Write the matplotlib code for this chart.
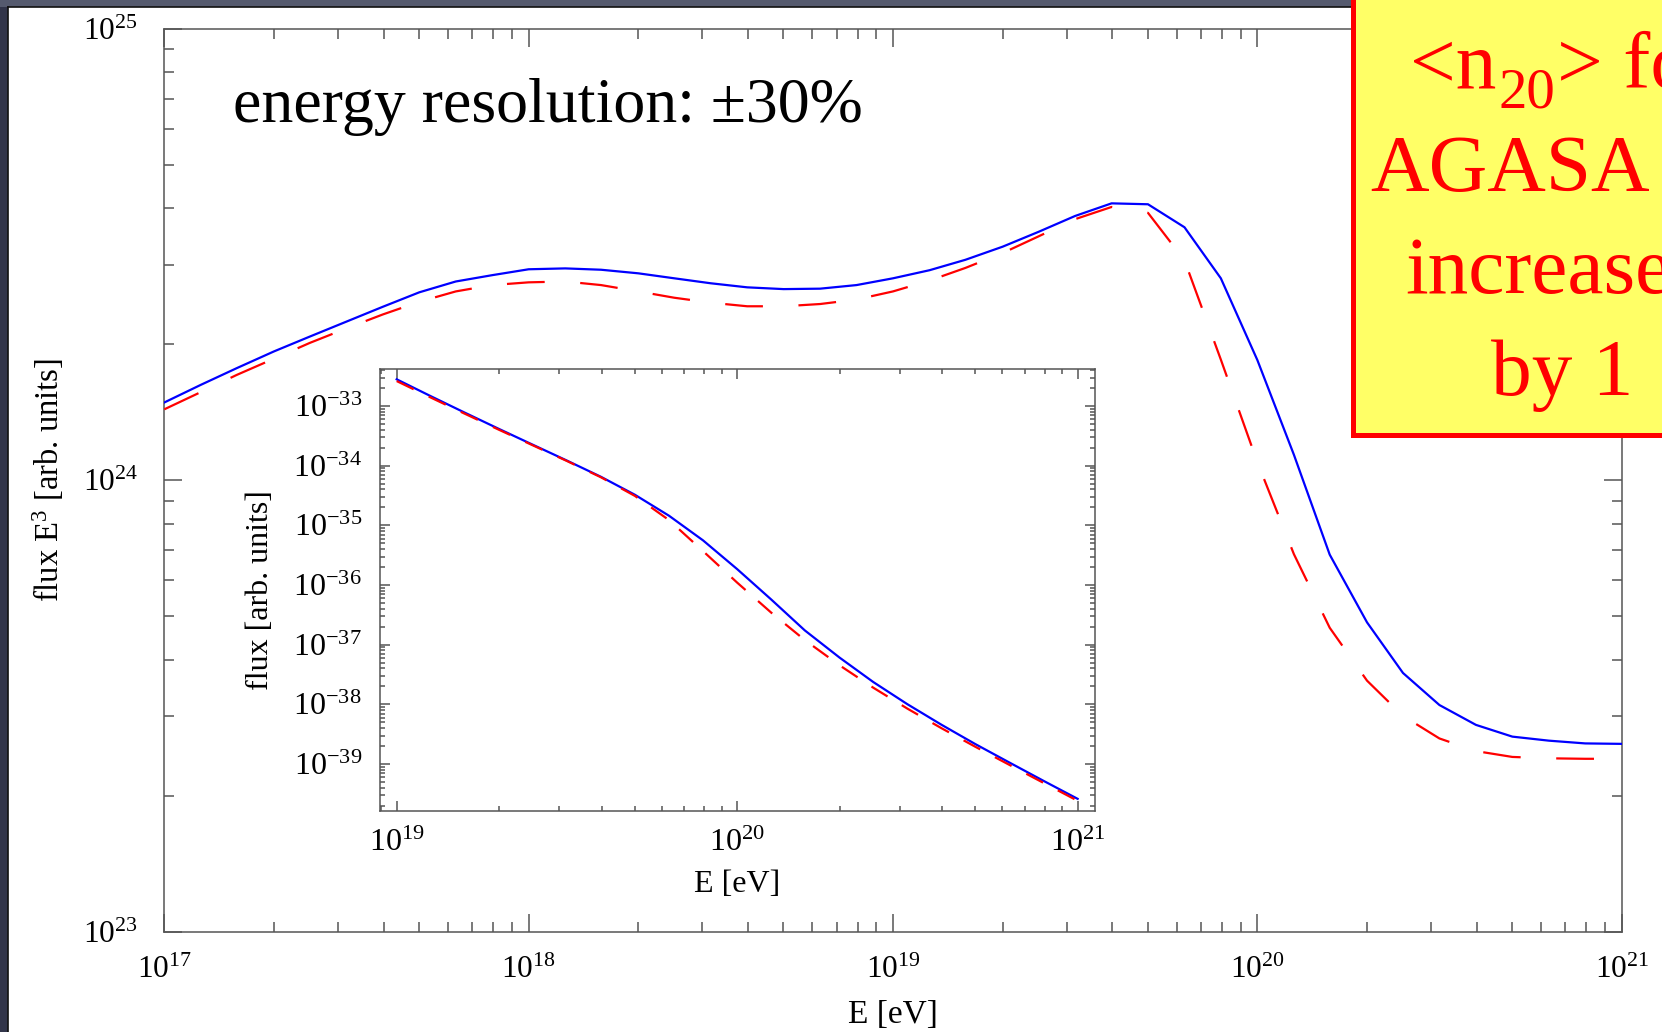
import numpy as np
import matplotlib
matplotlib.use("Agg")
import matplotlib.pyplot as plt
from matplotlib.ticker import LogLocator, FuncFormatter, NullFormatter
from matplotlib.patches import Rectangle
from matplotlib.lines import Line2D

# ---------------- data ----------------
energy_eV = [
    1.00e17, 1.26e17, 1.58e17, 2.00e17, 2.51e17, 3.16e17, 3.98e17, 5.01e17, 6.31e17, 7.94e17,
    1.00e18, 1.26e18, 1.58e18, 2.00e18, 2.51e18, 3.16e18, 3.98e18, 5.01e18, 6.31e18, 7.94e18,
    1.00e19, 1.26e19, 1.58e19, 2.00e19, 2.51e19, 3.16e19, 3.98e19, 5.01e19, 6.31e19, 7.94e19,
    1.00e20, 1.26e20, 1.58e20, 2.00e20, 2.51e20, 3.16e20, 3.98e20, 5.01e20, 6.31e20, 7.94e20,
    1.00e21,
]

# flux * E^3, solid blue curve
flux_e3_solid = [
    1.486e24, 1.626e24, 1.770e24, 1.928e24, 2.080e24, 2.244e24, 2.421e24, 2.606e24, 2.754e24, 2.844e24,
    2.931e24, 2.944e24, 2.924e24, 2.871e24, 2.799e24, 2.729e24, 2.673e24, 2.649e24, 2.655e24, 2.704e24,
    2.799e24, 2.917e24, 3.076e24, 3.289e24, 3.548e24, 3.846e24, 4.102e24, 4.083e24, 3.631e24, 2.799e24,
    1.845e24, 1.138e24, 6.839e23, 4.842e23, 3.741e23, 3.177e23, 2.871e23, 2.704e23, 2.649e23, 2.612e23,
    2.606e23,
]

# flux * E^3, dashed red curve (energy resolution +-30%)
flux_e3_dashed = [
    1.435e24, 1.567e24, 1.710e24, 1.858e24, 2.014e24, 2.168e24, 2.328e24, 2.483e24, 2.618e24, 2.704e24,
    2.742e24, 2.754e24, 2.704e24, 2.618e24, 2.535e24, 2.472e24, 2.427e24, 2.427e24, 2.455e24, 2.512e24,
    2.618e24, 2.767e24, 2.951e24, 3.184e24, 3.467e24, 3.784e24, 4.027e24, 3.908e24, 3.069e24, 1.849e24,
    1.096e24, 6.855e23, 4.710e23, 3.597e23, 3.006e23, 2.679e23, 2.512e23, 2.438e23, 2.421e23, 2.415e23,
    2.415e23,
]

# inset: plain flux (flux*E^3 divided by E^3) for E >= 1e19
inset_E = [e for e in energy_eV if e >= 1e19]
inset_flux_solid = [f / e**3 for e, f in zip(energy_eV, flux_e3_solid) if e >= 1e19]
inset_flux_dashed = [f / e**3 for e, f in zip(energy_eV, flux_e3_dashed) if e >= 1e19]

main_xticks = [1e17, 1e18, 1e19, 1e20, 1e21]
main_yticks = [1e23, 1e24, 1e25]

# ---------------- style ----------------
plt.rcParams["font.family"] = ["Liberation Serif", "DejaVu Serif"]
plt.rcParams["mathtext.fontset"] = "custom"
plt.rcParams["mathtext.rm"] = "Liberation Serif"
plt.rcParams["mathtext.it"] = "Liberation Serif:italic"
plt.rcParams["mathtext.bf"] = "Liberation Serif:bold"
plt.rcParams["mathtext.default"] = "regular"

W, H = 1662, 1032
fig = plt.figure(figsize=(W / 100, H / 100), dpi=100)
fig.patch.set_facecolor("white")


def fx(px):
    return px / W


def fy(py):
    return 1 - py / H


# dark slide frame (left and top strips)
fig.add_artist(Rectangle((0, 0), fx(8), 1, transform=fig.transFigure,
                         facecolor="#32354a", edgecolor="none", zorder=0))
fig.add_artist(Rectangle((0, fy(7)), 1, 7 / H, transform=fig.transFigure,
                         facecolor="#555a6e", edgecolor="none", zorder=0))
fig.add_artist(Line2D([fx(8), fx(8)], [0, fy(7)], transform=fig.transFigure,
                      color="#111111", lw=1.2, zorder=1))
fig.add_artist(Line2D([fx(8), 1], [fy(7), fy(7)], transform=fig.transFigure,
                      color="#111111", lw=1.2, zorder=1))

SPINE = "#555555"


def pow10(v, pos):
    e = int(round(np.log10(v)))
    return r"$10^{%d}$" % e


def style_axes(a, major_len, minor_len, xpad, ypad, lsize):
    a.set_xscale("log")
    a.set_yscale("log")
    for s in a.spines.values():
        s.set_color(SPINE)
        s.set_linewidth(1.1)
    for axis in (a.xaxis, a.yaxis):
        axis.set_major_locator(LogLocator(base=10, numticks=100))
        axis.set_minor_locator(LogLocator(base=10, subs=np.arange(2, 10), numticks=100))
        axis.set_major_formatter(FuncFormatter(pow10))
        axis.set_minor_formatter(NullFormatter())
    a.tick_params(which="both", direction="in", top=True, right=True,
                  color=SPINE, width=1.1, labelcolor="black", labelsize=lsize)
    a.tick_params(which="major", length=major_len)
    a.tick_params(which="minor", length=minor_len)
    a.tick_params(axis="x", pad=xpad)
    a.tick_params(axis="y", pad=ypad)


# ---------------- main axes ----------------
L, R, T, B = 164.3, 1621.7, 28.6, 931.7
ax = fig.add_axes([fx(L), fy(B), (R - L) / W, (B - T) / H])
style_axes(ax, 13, 7, 17, 19, 22.5)
ax.plot(energy_eV, flux_e3_solid, color="#0000ff", lw=1.6, zorder=3)
ax.plot(energy_eV, flux_e3_dashed, color="#ff0000", lw=1.6, linestyle=(0, (17, 16)), zorder=4)
ax.set_xlim(1e17, 1e21)
ax.set_ylim(1e23, 1e25)
ax.set_xticks(main_xticks)
ax.set_yticks(main_yticks)
ax.xaxis.set_minor_locator(LogLocator(base=10, subs=np.arange(2, 10), numticks=100))
ax.yaxis.set_minor_locator(LogLocator(base=10, subs=np.arange(2, 10), numticks=100))
ax.xaxis.set_minor_formatter(NullFormatter())
ax.yaxis.set_minor_formatter(NullFormatter())

ax.set_xlabel("E [eV]", fontsize=24)
ax.xaxis.set_label_coords(0.5, (B - 1015) / (B - T))
ax.xaxis.label.set_va("center")
ax.set_ylabel("flux $E^3$ [arb. units]", fontsize=23.5)
ax.yaxis.set_label_coords((48 - L) / (R - L), 0.5)
ax.yaxis.label.set_va("center")

# ---------------- inset ----------------
iL, iR, iT, iB = 380, 1095, 369, 811
ax2 = fig.add_axes([fx(iL), fy(iB), (iR - iL) / W, (iB - iT) / H], zorder=5)
style_axes(ax2, 7, 3.6, 13, 13, 23)
ax2.set_facecolor("white")
ax2.plot(inset_E, inset_flux_solid, color="#0000ff", lw=1.6, zorder=3)
ax2.plot(inset_E, inset_flux_dashed, color="#ff0000", lw=1.6, linestyle=(0, (8.5, 7.5)), zorder=4)
ax2.set_xlim(10 ** 18.951, 10 ** 21.051)
ax2.set_ylim(10 ** -39.788, 10 ** -32.38)
ax2.set_xlabel("E [eV]", fontsize=23)
ax2.xaxis.set_label_coords(0.5, (iB - 885) / (iB - iT))
ax2.xaxis.label.set_va("center")
ax2.set_ylabel("flux [arb. units]", fontsize=23)
ax2.yaxis.set_label_coords((260 - iL) / (iR - iL), 0.5)
ax2.yaxis.label.set_va("center")

# ---------------- annotations ----------------
fig.text(fx(233), fy(122), "energy resolution: \u00b130%", fontsize=46,
         ha="left", va="baseline", color="black", zorder=6)

fig.add_artist(Rectangle((fx(1352.5), fy(434.8)), 0.4, 0.7, transform=fig.transFigure,
                         facecolor="#ffff66", edgecolor="#ff0000", lw=3.6, zorder=10))

BOX_FS = 58.5
renderer = fig.canvas.get_renderer()
# first line built from pieces so that the subscript sits as low as in the slide
t_a = fig.text(fx(1410), fy(88), "<n", fontsize=BOX_FS, color="#ff0000",
               ha="left", va="baseline", zorder=11)
xa = t_a.get_window_extent(renderer).x1
t_b = fig.text((xa + 2) / W, fy(108), "20", fontsize=BOX_FS * 0.7, color="#ff0000",
               ha="left", va="baseline", zorder=11)
xb = t_b.get_window_extent(renderer).x1
fig.text((xb + 2) / W, fy(88), "> for", fontsize=BOX_FS, color="#ff0000",
         ha="left", va="baseline", zorder=11)

box_lines = [("AGASA", 1370, 191),
             ("increased", 1405, 293),
             ("by 1", 1491, 395)]
for txt, x0, yb in box_lines:
    fig.text(fx(x0), fy(yb), txt, fontsize=BOX_FS, color="#ff0000",
             ha="left", va="baseline", zorder=11)

fig.savefig("out.png", dpi=100, facecolor=fig.get_facecolor())
